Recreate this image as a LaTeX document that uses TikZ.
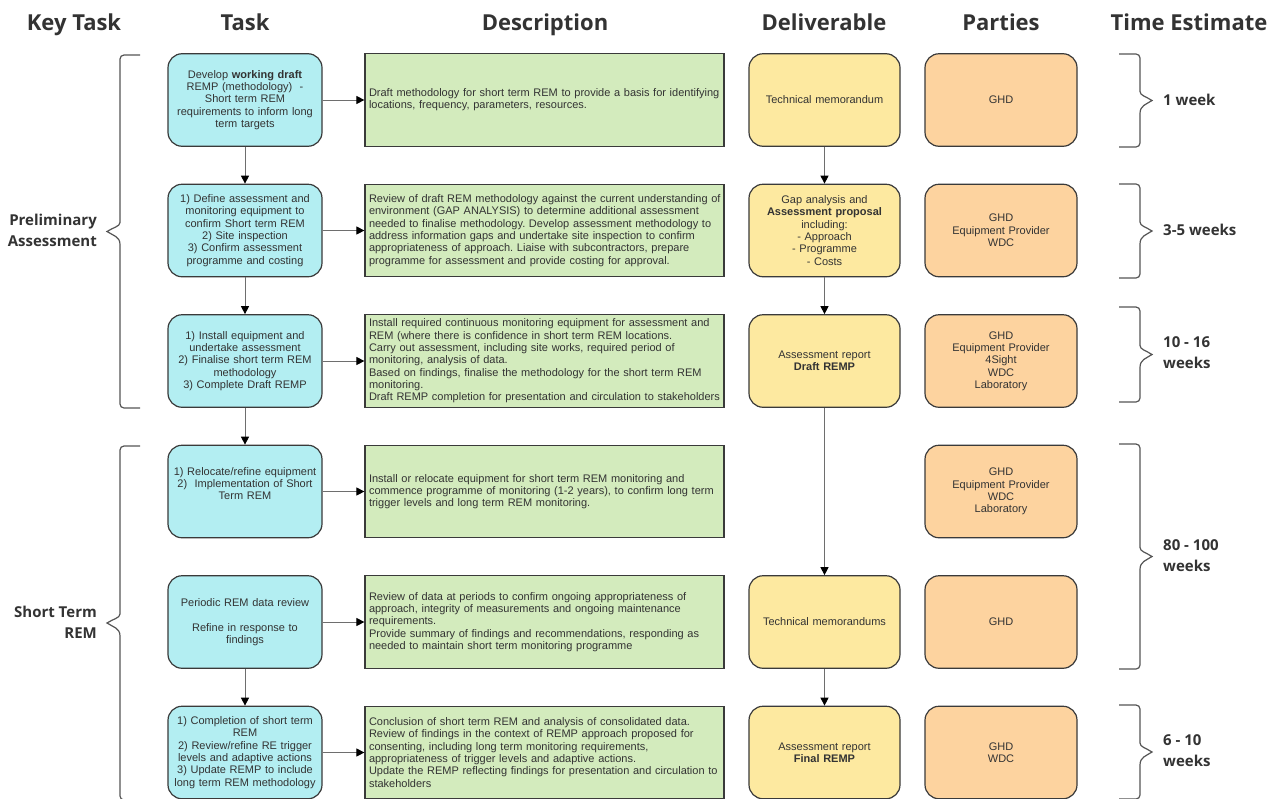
\documentclass[tikz,border=0pt]{standalone}
\usepackage{fontspec}
\setmainfont{Liberation Sans}
\newfontfamily\hdrfont{Open Sans}
\usetikzlibrary{arrows.meta}
\definecolor{taskF}{HTML}{B3EEF2}
\definecolor{descF}{HTML}{D3EBBD}
\definecolor{delF}{HTML}{FDE9A0}
\definecolor{partF}{HTML}{FDD39F}
\definecolor{bordC}{HTML}{3A3A3A}
\definecolor{txtC}{HTML}{333333}
\definecolor{hdrC}{HTML}{333333}
\definecolor{lineC}{HTML}{6E6E6E}
\definecolor{braceC}{HTML}{555555}
\newcommand\LBraceDraw[2]{%
  \pgfmathsetmacro\bcL{(#1+#2)/2}%
  \draw[brc,rounded corners=4pt] (140,#1) -- (120,#1) -- (120,{\bcL-13}) [sharp corners]
    .. controls (120,{\bcL-5}) and (113,{\bcL-4}) .. (107,\bcL)
    .. controls (113,{\bcL+4}) and (120,{\bcL+5}) .. (120,{\bcL+13})
    [rounded corners=4pt] -- (120,#2) -- (140,#2);}
\newcommand\RBraceDraw[2]{%
  \pgfmathsetmacro\bcR{(#1+#2)/2}%
  \draw[brc,rounded corners=4pt] (1119,#1) -- (1140,#1) -- (1140,{\bcR-13}) [sharp corners]
    .. controls (1140,{\bcR-5}) and (1146,{\bcR-4}) .. (1152,\bcR)
    .. controls (1146,{\bcR+4}) and (1140,{\bcR+5}) .. (1140,{\bcR+13})
    [rounded corners=4pt] -- (1140,#2) -- (1119,#2);}
\begin{document}
\begin{tikzpicture}[x=1pt,y=-1pt,
  body/.style={font=\fontsize{11}{12.3}\selectfont\frenchspacing, text=txtC, draw=bordC, line width=1.2pt, minimum height=92.5pt, inner ysep=0pt},
  taskbox/.style={body, fill=taskF, rounded corners=14pt, text width=150pt, inner xsep=2pt, align=center},
  descbox/.style={body, fill=descF, text width=351pt, inner xsep=4pt, align=left},
  delbox/.style={body, fill=delF, rounded corners=14pt, text width=147pt, inner xsep=2pt, align=center},
  partbox/.style={body, fill=partF, rounded corners=14pt, text width=148pt, inner xsep=2pt, align=center},
  hdr/.style={font=\hdrfont\bfseries\fontsize{22}{26}\selectfont, text=hdrC, inner sep=0pt, anchor=base},
  side/.style={font=\hdrfont\bfseries\fontsize{15}{21}\selectfont, text=hdrC, inner sep=0pt},
  arr/.style={draw=lineC, line width=0.9pt, -{Triangle[length=8pt,width=8pt,color=black]}},
  brc/.style={draw=braceC, line width=1.2pt}]
\useasboundingbox (0,0) rectangle (1279,798);
\clip (0,0) rectangle (1279,798);
\fill[white] (0,0) rectangle (1279,798);

% headers
\node[hdr] (h1) at (74,30) {Key Task};
\node[hdr] (h2) at (245,30) {Task};
\node[hdr] (h3) at (545,30) {Description};
\node[hdr] (h4) at (824,30) {Deliverable};
\node[hdr] (h5) at (1001,30) {Parties};
\node[hdr] (h6) at (1189,30) {Time Estimate};

% tasks
\node[taskbox] (t1) at (245,100) {Develop \textbf{working draft}\\REMP (methodology)~~-\\Short term REM\\requirements to inform long\\term targets};
\node[taskbox] (t2) at (245,230.5) {1) Define assessment and\\monitoring equipment to\\confirm Short term REM\\2) Site inspection\\3) Confirm assessment\\programme and costing};
\node[taskbox] (t3) at (245,361) {1) Install equipment and\\undertake assessment\\2) Finalise short term REM\\methodology\\3) Complete Draft REMP};
\node[taskbox] (t4) at (245,491.5) {1) Relocate/refine equipment\\2)~~Implementation of Short\\Term REM\\\strut};
\node[taskbox] (t5) at (245,622) {Periodic REM data review\\[12.3pt]Refine in response to\\findings};
\node[taskbox] (t6) at (245,752.5) {1) Completion of short term\\REM\\2) Review/refine RE trigger\\levels and adaptive actions\\3) Update REMP to include\\long term REM methodology};

% descriptions
\node[descbox] (d1) at (544.5,100) {\mbox{Draft methodology for short term REM to provide a basis for identifying}\\locations, frequency, parameters, resources.};
\node[descbox] (d2) at (544.5,230.5) {\mbox{Review of draft REM methodology against the current understanding of}\\\mbox{environment (GAP ANALYSIS) to determine additional assessment}\\\mbox{needed to finalise methodology. Develop assessment methodology to}\\\mbox{address information gaps and undertake site inspection to confirm}\\\mbox{appropriateness of approach. Liaise with subcontractors, prepare}\\\mbox{programme for assessment and provide costing for approval.}};
\node[descbox] (d3) at (544.5,361) {\mbox{Install required continuous monitoring equipment for assessment and}\\REM (where there is confidence in short term REM locations.\\Carry out assessment, including site works, required period of\\monitoring, analysis of data.\\\mbox{Based on findings, finalise the methodology for the short term REM}\\monitoring.\\\mbox{Draft REMP completion for presentation and circulation to stakeholders}};
\node[descbox] (d4) at (544.5,491.5) {Install or relocate equipment for short term REM monitoring and\\\mbox{commence programme of monitoring (1-2 years), to confirm long term}\\trigger levels and long term REM monitoring.};
\node[descbox] (d5) at (544.5,622) {Review of data at periods to confirm ongoing appropriateness of\\approach, integrity of measurements and ongoing maintenance\\requirements.\\\mbox{Provide summary of findings and recommendations, responding as}\\needed to maintain short term monitoring programme};
\node[descbox] (d6) at (544.5,752.5) {Conclusion of short term REM and analysis of consolidated data.\\Review of findings in the context of REMP approach proposed for\\consenting, including long term monitoring requirements,\\appropriateness of trigger levels and adaptive actions.\\\mbox{Update the REMP reflecting findings for presentation and circulation to}\\stakeholders};

% deliverables
\node[delbox] (v1) at (824.5,100) {Technical memorandum};
\node[delbox] (v2) at (824.5,230.5) {Gap analysis and\\\textbf{Assessment proposal}\\including:\\- Approach\\- Programme\\- Costs};
\node[delbox] (v3) at (824.5,361) {Assessment report\\\textbf{Draft REMP}};
\node[delbox] (v5) at (824.5,622) {Technical memorandums};
\node[delbox] (v6) at (824.5,752.5) {Assessment report\\\textbf{Final REMP}};

% parties
\node[partbox] (p1) at (1001,100) {GHD};
\node[partbox] (p2) at (1001,230.5) {GHD\\Equipment Provider\\WDC};
\node[partbox] (p3) at (1001,361) {GHD\\Equipment Provider\\4Sight\\WDC\\Laboratory};
\node[partbox] (p4) at (1001,491.5) {GHD\\Equipment Provider\\WDC\\Laboratory};
\node[partbox] (p5) at (1001,622) {GHD};
\node[partbox] (p6) at (1001,752.5) {GHD\\WDC};

% connectors
\draw[arr] (t1) -- (t2);
\draw[arr] (t2) -- (t3);
\draw[arr] (t3) -- (t4);
\draw[arr] (t5) -- (t6);
\draw[arr] (t1) -- (d1);
\draw[arr] (t2) -- (d2);
\draw[arr] (t3) -- (d3);
\draw[arr] (t4) -- (d4);
\draw[arr] (t5) -- (d5);
\draw[arr] (t6) -- (d6);
\draw[arr] (v1) -- (v2);
\draw[arr] (v2) -- (v3);
\draw[arr] (v3) -- (v5);
\draw[arr] (v5) -- (v6);

% left braces and labels
\LBraceDraw{55}{408}
\LBraceDraw{446}{800}
\node[side, align=right, anchor=east] (k1) at (97,230) {Preliminary\\Assessment};
\node[side, align=right, anchor=east] (k2) at (97,622) {Short Term\\REM};

% right braces and labels
\RBraceDraw{54}{147}
\RBraceDraw{184}{278}
\RBraceDraw{307}{402}
\RBraceDraw{444}{669}
\RBraceDraw{705}{799}
\node[side, align=left, anchor=west] (e1) at (1163,100) {1 week};
\node[side, align=left, anchor=west] (e2) at (1163,230) {3-5 weeks};
\node[side, align=left, anchor=west] (e3) at (1163,353) {10 - 16\\weeks};
\node[side, align=left, anchor=west] (e4) at (1163,556) {80 - 100\\weeks};
\node[side, align=left, anchor=west] (e5) at (1163,751) {6 - 10\\weeks};
\end{tikzpicture}
\end{document}
